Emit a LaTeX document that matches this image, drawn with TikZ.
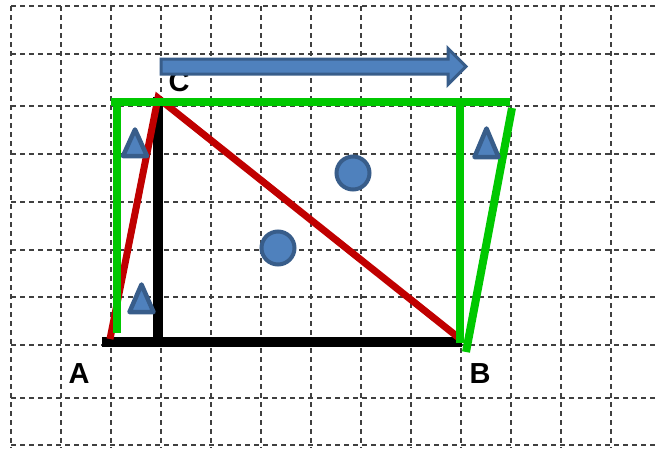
\documentclass[tikz,border=0pt]{standalone}
\usepackage{fontspec}
\setmainfont{Liberation Sans}
\definecolor{boxblue}{HTML}{4F81BD}
\definecolor{edgeblue}{HTML}{385D8A}
\definecolor{darkred}{HTML}{C00000}
\definecolor{brightgreen}{HTML}{00C800}
\definecolor{gridgray}{HTML}{404040}

\begin{document}
\begin{tikzpicture}[
  x=1pt,y=-1pt,
  gridln/.style={gridgray,line width=1.2pt,dash pattern=on 5pt off 4pt},
  blkseg/.style={black,line width=10pt},
  redseg/.style={darkred,line width=7pt,line join=miter},
  grnseg/.style={brightgreen,line width=8pt},
  tri/.style={fill=boxblue,draw=edgeblue,line width=4.5pt,line join=round},
  dot/.style={circle,fill=boxblue,draw=edgeblue,line width=4pt,minimum size=33pt,inner sep=0pt},
  lbl/.style={font=\fontsize{29}{30}\selectfont\bfseries,inner sep=0pt},
]
\useasboundingbox (0,0) rectangle (658,448);
% dashed grid
\foreach \gx in {11,61,...,611}
  \draw[gridln] (\gx,6) -- (\gx,448);
\foreach \gy in {6,54,106,154,202,250,297,345,398,445}
  \draw[gridln] (11,\gy) -- (658,\gy);
% corner points
\coordinate (pa) at (110,339);
\coordinate (pb) at (459,338);
\coordinate (pc) at (158,98);
% labels
\node[lbl] (A) at (79,374) {A};
\node[lbl] (B) at (480,374) {B};
\node[lbl] (C) at (179,82) {C};
% black right angle
\draw[blkseg] (102,341.5) -- (462,341.5);
\draw[blkseg] (158,97) -- (158,341);
% red triangle sides
\draw[redseg] (pa) -- (pc) -- (pb);
% green frame
\draw[grnseg] (111,102) -- (510,102);
\draw[grnseg] (117,106) -- (117,333);
\draw[grnseg] (459.5,102) -- (459.5,343);
\draw[grnseg] (512,108) -- (466,352);
% markers
\draw[tri] (135,129.5) -- (147,156) -- (123,156) -- cycle;
\draw[tri] (141.5,284.5) -- (153.5,312) -- (129.5,312) -- cycle;
\draw[tri] (486.5,128.5) -- (498.5,157) -- (474.5,157) -- cycle;
\node[dot] (o1) at (353,173) {};
\node[dot] (o2) at (278,248) {};
% block arrow
\draw[fill=boxblue,draw=edgeblue,line width=3pt]
  (161,59) -- (448,59) -- (448,48.5) -- (466,66.5) -- (448,84.5) -- (448,74) -- (161,74) -- cycle;
\end{tikzpicture}
\end{document}
